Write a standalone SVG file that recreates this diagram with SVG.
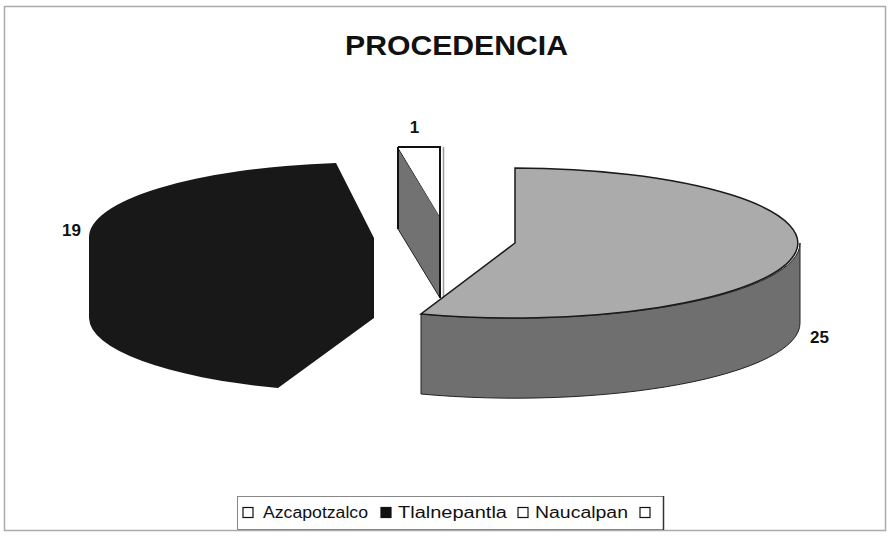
<svg xmlns="http://www.w3.org/2000/svg" width="891" height="536" viewBox="0 0 891 536">
<style>
.lbl{font-family:"Liberation Sans",Arial,sans-serif;font-weight:bold;font-size:17px;fill:#111}
.leg{font-family:"Liberation Sans",Arial,sans-serif;font-size:16px;fill:#111}
.sq{stroke:#111;stroke-width:1.2}
</style>
<rect x="0" y="0" width="891" height="536" fill="#fff"/>
<rect x="4.5" y="6.5" width="881" height="524" fill="none" stroke="#aaa" stroke-width="1.5"/>
<g id="title">
<text x="345" y="55" font-family="'Liberation Sans',Arial,sans-serif" font-weight="bold" font-size="28" fill="#111" textLength="223" lengthAdjust="spacingAndGlyphs">PROCEDENCIA</text>
</g>
<g id="tlalnepantla">
<path d="M336,163 L374,238 L374,318 L278,388 A285 75 0 0 1 89,318 L89,238 A285 75 0 0 1 336,163 Z" fill="#181818"/>
<text class="lbl" x="62" y="236">19</text>
</g>
<g id="naucalpan">
<polygon points="398,148 440,217 440,298 398,229" fill="#727272" stroke="#222" stroke-width="1"/>
<polygon points="398,147 440,147 440,217" fill="#fff"/>
<path d="M398,147 L440,147 L440,298" fill="none" stroke="#111" stroke-width="2"/>
<line x1="398" y1="147" x2="398" y2="229" stroke="#111" stroke-width="2"/>
<line x1="443.5" y1="147" x2="443.5" y2="300" stroke="#9a9a9a" stroke-width="1.5"/>
<text class="lbl" x="414.5" y="133" text-anchor="middle">1</text>
</g>
<g id="azcapotzalco">
<path d="M421,314 L421,394 A285 75 0 0 0 800,323 L800,243 A285 75 0 0 1 421,314 Z" fill="#6f6f6f" stroke="#222" stroke-width="1"/>
<path d="M515,243 L515,168 A285 75 0 1 1 421,314 Z" fill="#ababab" stroke="#1a1a1a" stroke-width="1.5"/>
<text class="lbl" x="810" y="343">25</text>
</g>
<g id="legend">
<rect x="237.5" y="496.5" width="426" height="33" fill="#fff" stroke="#888" stroke-width="1"/>
<line x1="663.5" y1="496" x2="663.5" y2="530" stroke="#333" stroke-width="1.5"/>
<rect class="sq" x="243" y="507.5" width="10" height="10" fill="#fff"/>
<text class="leg" x="263" y="518" textLength="105" lengthAdjust="spacingAndGlyphs">Azcapotzalco</text>
<rect class="sq" x="381" y="507.5" width="10" height="10" fill="#111"/>
<text class="leg" x="398" y="518" textLength="109" lengthAdjust="spacingAndGlyphs">Tlalnepantla</text>
<rect class="sq" x="518" y="507.5" width="10" height="10" fill="#fff"/>
<text class="leg" x="535" y="518" textLength="93" lengthAdjust="spacingAndGlyphs">Naucalpan</text>
<rect class="sq" x="640" y="507.5" width="10" height="10" fill="#fff"/>
</g>
</svg>
